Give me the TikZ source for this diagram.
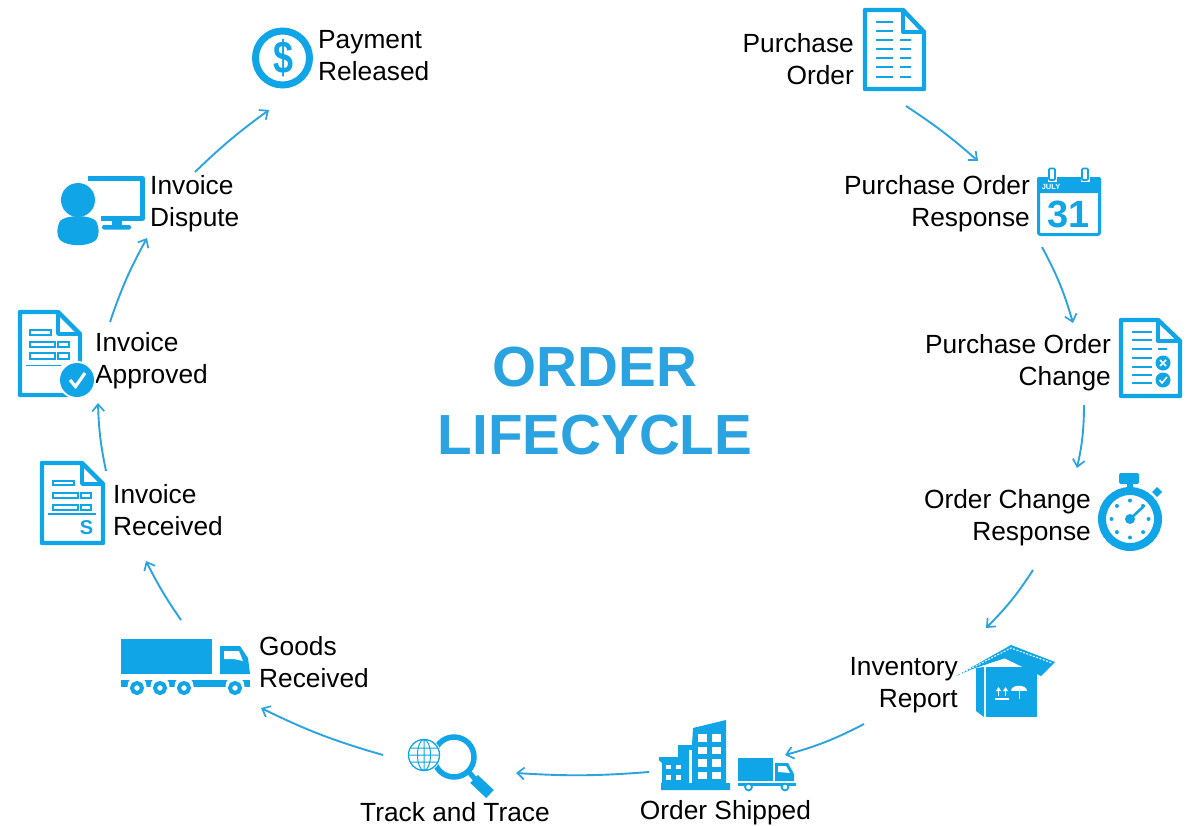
\documentclass[tikz,border=0pt]{standalone}
\usepackage{fontspec}
\setmainfont{Liberation Sans}
\usetikzlibrary{arrows.meta}
\definecolor{iconblue}{HTML}{10A5E6}
\definecolor{linkblue}{HTML}{2BA3E0}
\tikzset{
  lab/.style={inner sep=0pt,text=black,font=\fontsize{26.3}{32}\selectfont},
  labl/.style={lab,anchor=west,align=left},
  labr/.style={lab,anchor=east,align=right},
  labc/.style={lab,anchor=center,align=center},
  title/.style={inner sep=0pt,text=linkblue,align=center,font=\fontsize{56.6}{68}\selectfont\bfseries},
  link/.style={draw=linkblue,line width=1.9pt,-{Straight Barb[length=7pt,width=12pt,line width=1.7pt]}},
  ico/.style={draw=iconblue,line join=round,line width=4.4pt},
  thin ico/.style={draw=iconblue,line width=2pt},
  glyph/.style={inner sep=0pt,text=iconblue,font=\bfseries}
}
\newcommand{\docicon}[6]{%
  \draw[ico] (#1,#2) -- (#5,#2) -- (#3,#6) -- (#3,#4) -- (#1,#4) -- cycle;
  \draw[ico,line width=3.4pt] (#5,#2) -- (#5,#6) -- (#3,#6);}
\newcommand{\rowbox}[4]{\draw[thin ico,line width=1.8pt] (#1,#2) rectangle (#3,#4);}
\begin{document}
\begin{tikzpicture}[x=1pt,y=-1pt]
\useasboundingbox (0,0) rectangle (1186,825);
% title
\node[title] (order) at (595,401) {ORDER\\LIFECYCLE};
% labels
\node[labl] (lpay) at (318,57.6) {\strut Payment\\\strut Released};
\node[labr] (lpo) at (854,61.6) {\strut Purchase\\\strut Order};
\node[labr] (lpor) at (1030,203.6) {\strut Purchase Order\\\strut Response};
\node[labr] (lpoc) at (1111,362.6) {\strut Purchase Order\\\strut Change};
\node[labr] (locr) at (1091,517.6) {\strut Order Change\\\strut Response};
\node[labr] (linv) at (958,684.6) {\strut Inventory\\\strut Report};
\node[labc] (lship) at (725.5,812.6) {\strut Order Shipped};
\node[labc] (ltrack) at (455,814.6) {\strut Track and Trace};
\node[labl] (lgoods) at (259,664.6) {\strut Goods\\\strut Received};
\node[labl] (lrec) at (113,512.6) {\strut Invoice\\\strut Received};
\node[labl] (lapp) at (95,360.6) {\strut Invoice\\\strut Approved};
\node[labl] (ldis) at (150,203.6) {\strut Invoice\\\strut Dispute};
% connector ends
\coordinate (a1) at (906,106); \coordinate (b1) at (978,161);
\coordinate (a2) at (1042,247); \coordinate (b2) at (1073,323);
\coordinate (a3) at (1084,405); \coordinate (b3) at (1077,468);
\coordinate (a4) at (1033,570); \coordinate (b4) at (986,628);
\coordinate (a5) at (864,724); \coordinate (b5) at (785,755);
\coordinate (a6) at (649,772); \coordinate (b6) at (516,773);
\coordinate (a7) at (383,755); \coordinate (b7) at (261,708);
\coordinate (a8) at (181,620); \coordinate (b8) at (146,561);
\coordinate (a9) at (106,471); \coordinate (b9) at (98,403);
\coordinate (a10) at (110,322); \coordinate (b10) at (147,238);
\coordinate (a11) at (195,172); \coordinate (b11) at (269,110);
\draw[link] (a1) to[bend left=4] (b1);
\draw[link] (a2) to[bend left=6] (b2);
\draw[link] (a3) to[bend left=6] (b3);
\draw[link] (a4) to[bend left=6] (b4);
\draw[link] (a5) to[bend left=6] (b5);
\draw[link] (a6) to[bend left=4] (b6);
\draw[link] (a7) to[bend left=5] (b7);
\draw[link] (a8) to[bend left=4] (b8);
\draw[link] (a9) to[bend left=5] (b9);
\draw[link] (a10) to[bend left=5] (b10);
\draw[link] (a11) to[bend left=4] (b11);
% --- payment icon
\draw[iconblue,line width=7pt] (282.5,58) circle (27);
\node[glyph,font=\fontsize{46}{46}\selectfont\bfseries,xscale=0.78] (dollar) at (283.5,58) {\$};
% --- purchase order icon
\docicon{865}{10}{924}{89}{903}{32}
\foreach \yy in {22,31}{\draw[thin ico] (876,\yy) -- (893,\yy);}
\foreach \yy in {40,49,58,67,77}{\draw[thin ico] (876,\yy) -- (893,\yy);\draw[thin ico] (900,\yy) -- (911,\yy);}
% --- calendar
\draw[ico,line width=3pt,rounded corners=2pt] (1038.5,180) rectangle (1099.5,234.5);
\fill[iconblue,rounded corners=2pt] (1037,177) rectangle (1101,193);
\foreach \xx in {1052,1085}{\fill[white] (\xx-4.5,167) rectangle (\xx+4.5,182);\draw[iconblue,line width=1.6pt,fill=white,rounded corners=1pt] (\xx-3,168.5) rectangle (\xx+3,180);}
\node[inner sep=0pt,text=white,font=\fontsize{7.5}{8}\selectfont\bfseries] (july) at (1051,187) {JULY};
\node[glyph,font=\fontsize{38}{38}\selectfont\bfseries] (day) at (1068.5,214.5) {31};
% --- purchase order change
\docicon{1121}{320}{1180}{396}{1158}{341}
\foreach \yy in {332,340,349,358,367,375,383}{\draw[thin ico] (1132,\yy) -- (1152,\yy);}
\draw[thin ico] (1158,349) -- (1167,349);
\fill[iconblue] (1163,363) circle (7.5) (1163,380) circle (7.5);
\draw[white,line width=1.6pt] (1160,360) -- (1166,366) (1166,360) -- (1160,366);
\draw[white,line width=1.6pt] (1159.5,380) -- (1162,383) -- (1167,377);
% --- stopwatch
\draw[iconblue,line width=8pt] (1130,519) circle (28);
\fill[iconblue,rounded corners=1.5pt] (1119,473) rectangle (1139,484);
\fill[iconblue] (1127,484) rectangle (1133,490);
\fill[iconblue] (1157,487) -- (1162,492) -- (1157,497) -- (1152,492) -- cycle;
\foreach \aa in {0,45,...,315}{\fill[iconblue] (1130,519) ++(\aa:18.5) circle (2);}
\fill[iconblue] (1130,519) circle (5);
\draw[iconblue,line width=2.6pt] (1130,519) -- (1143,507);
% --- inventory box
\fill[iconblue] (986,667) rectangle (1037,717);
\fill[iconblue] (976,668) -- (984,667) -- (984,717) -- (976,711) -- cycle;
\fill[iconblue] (956,676) -- (1011,645) -- (1021,653) -- (975,668) -- cycle;
\fill[iconblue] (1011,645) -- (1055,662) -- (1041,676) -- (1002,657) -- cycle;
\draw[white,line width=1pt,dash pattern=on 2pt off 1.5pt] (960,674) -- (1011,648) -- (1052,663);
\fill[white] (996,691) -- (998.5,687) -- (1001,691) -- cycle (1003,691) -- (1005.5,687) -- (1008,691) -- cycle;
\draw[white,line width=1.2pt] (998.5,690) -- (998.5,696) (1005.5,690) -- (1005.5,696) (995,699) -- (1009,699);
\fill[white] (1011,691) .. controls (1011,684) and (1027,684) .. (1027,691) -- cycle;
\draw[white,line width=1pt] (1019,691) -- (1019,699);
% --- order shipped
\fill[iconblue] (659,757) -- (678,757) -- (678,745) -- (692,745) -- (693,728) -- (726,720) -- (726,783) -- (730,783) -- (730,790) -- (661,790) -- (661,783) -- (662,783) -- (662,763) -- (659,760) -- cycle;
\foreach \yy/\hh in {734/8,747/7,759/8,772/7}{\fill[white] (698,\yy) rectangle +(9,\hh); \fill[white] (712,\yy) rectangle +(9,\hh);}
\fill[white] (689,750) rectangle (691.5,783);
\foreach \xx in {666,676}{\fill[white] (\xx,765) rectangle +(5,4); \fill[white] (\xx,775) rectangle +(5,5);}
\fill[iconblue] (737.5,758) rectangle (773,781);
\fill[iconblue] (775,763) -- (788,763) -- (794,774) -- (794,781) -- (775,781) -- cycle;
\fill[white] (778,766) -- (786,766) -- (790,773) -- (778,772) -- cycle;
\fill[iconblue] (738,783) rectangle (796,785.5);
\foreach \xx in {748.5,785}{\draw[iconblue,line width=1.8pt,fill=white] (\xx,787) circle (3.4);}
% --- track and trace
\draw[iconblue,line width=5.5pt] (454,757) circle (20);
\draw[iconblue,line width=5pt] (468,771) -- (475,779);
\draw[iconblue,line width=11pt] (474,779) -- (490,794);
\fill[white] (424,755) circle (17);
\draw[thin ico,line width=1.3pt] (424,755) circle (15.5);
\draw[thin ico,line width=1pt] (424,755) ellipse (6.5 and 15.5) (424,739.5) -- (424,770.5)
  (410,748) -- (438,748) (408.5,755) -- (439.5,755) (410,762) -- (438,762);
% --- goods truck
\fill[iconblue] (121,639) rectangle (212,674);
\fill[iconblue] (220,646) -- (240,646) -- (248,658) -- (250,674) -- (220,674) -- cycle;
\fill[white] (224,651) -- (239,651) -- (243,661) -- (234,659) -- (224,659) -- cycle;
\fill[iconblue] (121,680) -- (250,680) -- (250,687) -- (121,687) -- cycle;
\foreach \xx in {137,160,184,235}{\fill[white] (\xx,686) circle (9.5);}
\foreach \xx in {137,160,184,235}{\draw[iconblue,line width=4pt,fill=white] (\xx,688) circle (5);}
% --- invoice received
\docicon{42}{463}{103}{543}{82}{484}
\rowbox{53}{481}{74}{485}
\rowbox{53}{493}{78}{498}
\rowbox{81}{493}{91}{498}
\rowbox{53}{505}{78}{510}
\rowbox{81}{505}{91}{510}
\draw[thin ico] (48,513.5) -- (96,513.5);
\node[glyph,font=\fontsize{20}{20}\selectfont\bfseries] (sgn) at (86.5,528) {S};
% --- invoice approved
\docicon{20}{312}{80}{395}{58}{334}
\rowbox{30}{330}{51}{335}
\rowbox{30}{342}{55}{347}
\rowbox{58}{342}{69}{347}
\rowbox{30}{353}{55}{359}
\rowbox{58}{353}{69}{359}
\draw[thin ico,line width=1pt] (26,365) -- (61,365);
\fill[white] (77,380) circle (19);
\fill[iconblue] (77,380) circle (17);
\draw[white,line width=3.2pt] (70,380) -- (75.5,386.5) -- (85,373);
% --- invoice dispute
\draw[ico,line width=5pt] (88,178.5) -- (142.5,178.5) -- (142.5,218.5) -- (96,218.5);
\fill[iconblue] (112,221) rectangle (122,226);
\fill[iconblue,rounded corners=2pt] (102,225) rectangle (131,229.5);
\fill[white] (78,200) circle (19.5);
\fill[white] (57,211) rectangle (101,232);
\fill[iconblue] (78,200) circle (17);
\fill[iconblue] (60,221) .. controls (66,214.5) and (90,214.5) .. (96,221) .. controls (99.5,228) and (99.5,236) .. (96,240) .. controls (88,247) and (68,247) .. (60,240) .. controls (56.5,236) and (56.5,228) .. (60,221) -- cycle;
\end{tikzpicture}
\end{document}
